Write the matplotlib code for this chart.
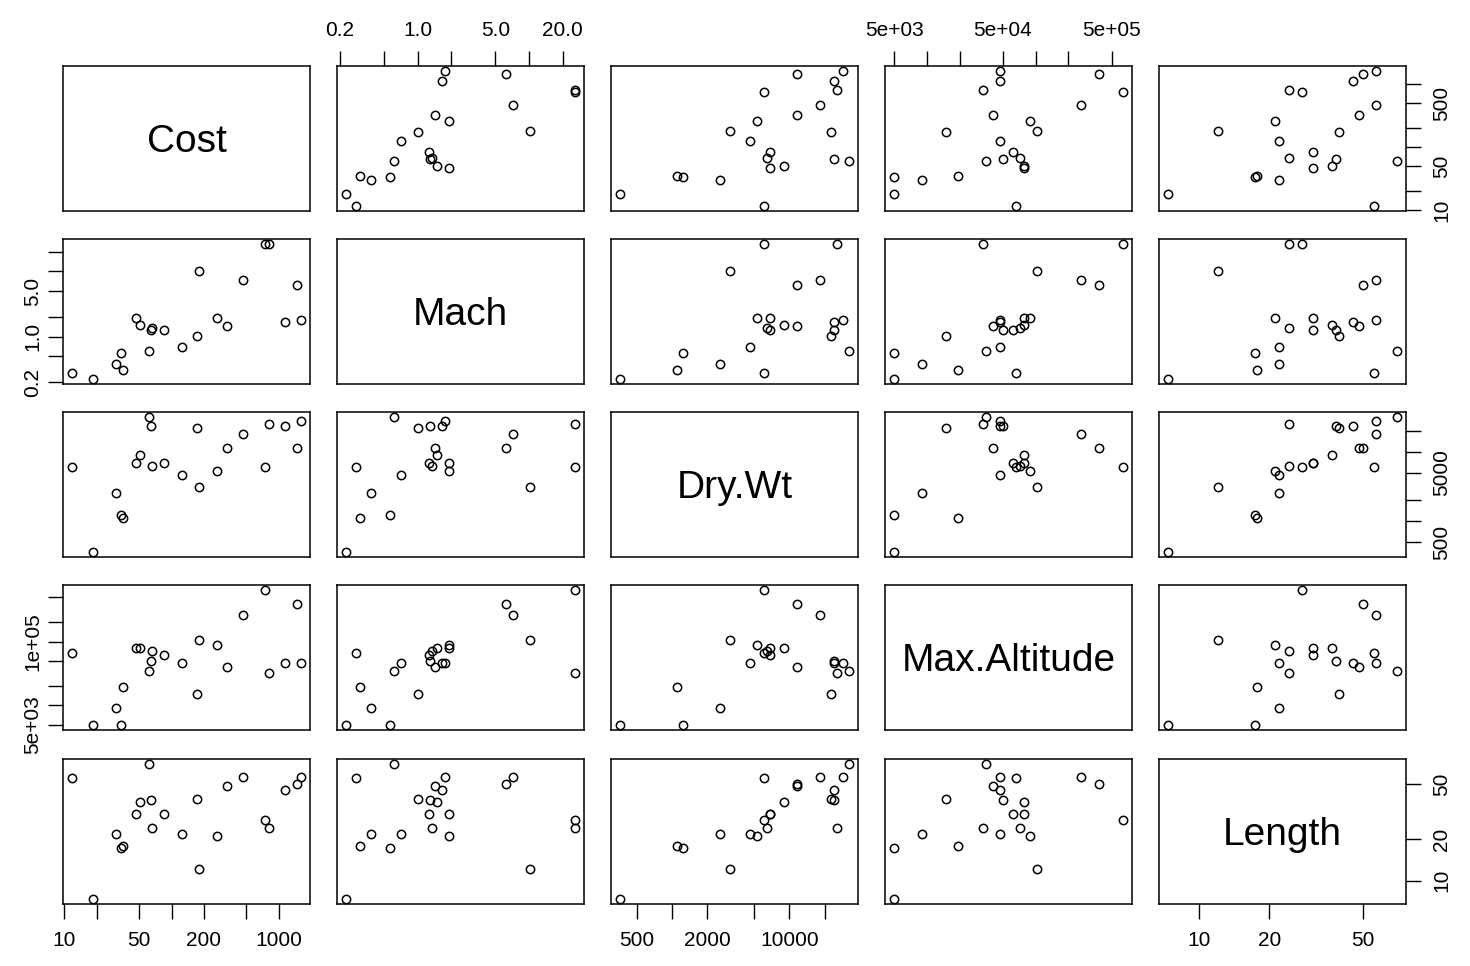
import numpy as np
import matplotlib
matplotlib.use("Agg")
import matplotlib.pyplot as plt
from matplotlib.ticker import FixedLocator, FixedFormatter, NullLocator

plt.rcParams['font.family'] = ['Liberation Sans', 'DejaVu Sans']

names = ["Cost", "Mach", "Dry.Wt", "Max.Altitude", "Length"]
cost = [11.8, 18.3, 30.5, 33.9, 35.1, 46.9, 51.0, 61.4, 64.1, 66.3, 85.5,
        126, 172, 179, 264, 326, 466, 743, 809, 1137, 1477, 1608]
mach = [0.281, 0.229, 0.384, 0.561, 0.305, 1.90, 1.51, 0.616, 1.29, 1.36, 1.26,
        0.708, 1.02, 10.2, 1.90, 1.44, 7.25, 25.8, 25.8, 1.66, 6.25, 1.78]
dry_wt = [6050, 362, 2567, 1233, 1110, 6880, 9020, 32000, 23700, 6380, 6880,
          4630, 22500, 3110, 5260, 11500, 18300, 6050, 25300, 24000, 11500, 28800]
max_alt = [66400, 5000, 9040, 5000, 19500, 78300, 78300, 35100, 50000, 71300, 61800,
           46600, 15000, 104000, 88100, 40400, 261000, 634000, 32700, 46600, 382000, 46600]
length = [55.7, 7.4, 21.9, 17.4, 17.8, 30.7, 37.1, 70, 38.5, 24.2, 30.7,
          21.9, 39.5, 12.1, 21.2, 48.4, 57, 27.5, 24.2, 45.4, 50, 57]

data = [cost, mach, dry_wt, max_alt, length]

# tick values and labels per variable (axis position dependent)
tick_vals = [
    [10, 20, 50, 100, 200, 500, 1000],
    [0.2, 0.5, 1, 2, 5, 10, 20],
    [500, 1000, 2000, 5000, 10000, 20000],
    [5e3, 1e4, 2e4, 5e4, 1e5, 2e5, 5e5],
    [10, 20, 50],
]
# labels used on the x side (bottom/top)
x_labels = [
    ["10", "", "50", "", "200", "", "1000"],
    ["0.2", "", "1.0", "", "5.0", "", "20.0"],
    ["500", "", "2000", "", "10000", ""],
    ["5e+03", "", "", "5e+04", "", "", "5e+05"],
    ["10", "20", "50"],
]
# labels used on the y side (left/right)
y_labels = [
    ["10", "", "50", "", "", "500", ""],
    ["0.2", "", "1.0", "", "5.0", "", ""],
    ["500", "", "", "5000", "", ""],
    ["5e+03", "", "", "", "1e+05", "", ""],
    ["10", "20", "50"],
]

W, H = 1470, 966
fig = plt.figure(figsize=(W / 100, H / 100), dpi=100)

col_left = [63, 337, 611, 885, 1159]
pw = 247
row_top = [66, 239, 412, 585, 759]
ph = 145

def lims(v):
    lv = np.log10(v)
    lo, hi = lv.min(), lv.max()
    d = 0.04 * (hi - lo)
    return 10 ** (lo - d), 10 ** (hi + d)

n = len(data)
for i in range(n):        # row -> y variable
    for j in range(n):    # col -> x variable
        ax = fig.add_axes([col_left[j] / W, 1 - (row_top[i] + ph) / H, pw / W, ph / H])
        ax.set_xscale('log')
        ax.set_yscale('log')
        ax.set_xlim(*lims(np.array(data[j])))
        ax.set_ylim(*lims(np.array(data[i])))
        for s in ax.spines.values():
            s.set_linewidth(1.1)
            s.set_color('black')
        ax.xaxis.set_major_locator(FixedLocator(tick_vals[j]))
        ax.xaxis.set_major_formatter(FixedFormatter(x_labels[j]))
        ax.yaxis.set_major_locator(FixedLocator(tick_vals[i]))
        ax.yaxis.set_major_formatter(FixedFormatter(y_labels[i]))
        ax.xaxis.set_minor_locator(NullLocator())
        ax.yaxis.set_minor_locator(NullLocator())
        ax.tick_params(which='both', bottom=False, top=False, left=False, right=False,
                       labelbottom=False, labeltop=False, labelleft=False, labelright=False)
        tk = dict(length=10.8, width=1.0, color='black', labelsize=15, labelcolor='black')
        # x axis on outer rows
        if i == n - 1 and j % 2 == 0:
            ax.tick_params(axis='x', bottom=True, labelbottom=True, pad=9, **tk)
        if i == 0 and j % 2 == 1:
            ax.tick_params(axis='x', top=True, labeltop=True, pad=8, **tk)
        if j == 0 and i % 2 == 1:
            ax.tick_params(axis='y', left=True, labelleft=True, pad=4, labelrotation=90, **tk)
            for lb in ax.get_yticklabels():
                lb.set_va('center')
        if j == n - 1 and i % 2 == 0:
            ax.tick_params(axis='y', right=True, labelright=True, pad=8, labelrotation=90, **tk)
            for lb in ax.get_yticklabels():
                lb.set_va('center')
        if i == j:
            ax.text(0.5, 0.5 - 0.096, names[i], transform=ax.transAxes, ha='center',
                    va='baseline', fontsize=28, color='black')
        else:
            ax.plot(data[j], data[i], 'o', mfc='none', mec='black', ms=6.0, mew=1.1)

fig.savefig("out.png", dpi=100)
